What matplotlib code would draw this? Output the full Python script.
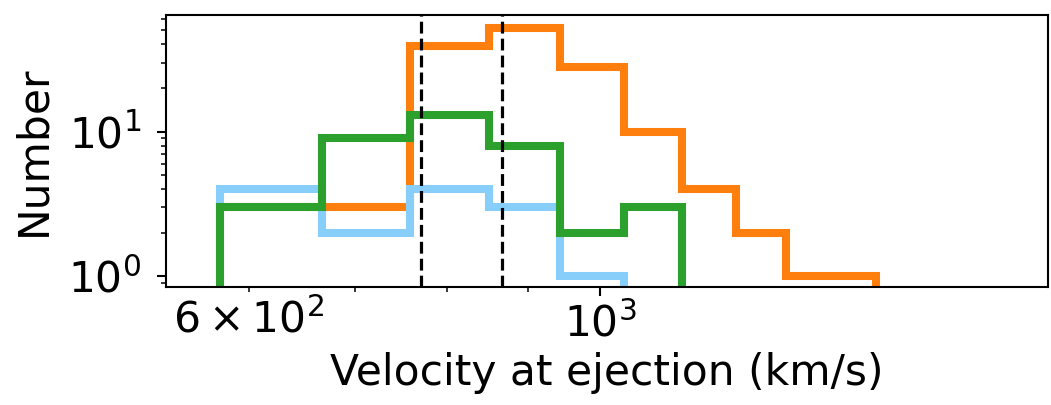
import matplotlib
matplotlib.use("Agg")
import matplotlib.pyplot as plt
from matplotlib.ticker import FixedLocator, FixedFormatter, NullFormatter

# shared bin edges of the velocity histograms (km/s)
bin_edges = [575, 667, 759, 851, 943, 1035, 1127, 1219, 1311, 1403, 1495]

# counts per bin for each sample (trailing empty bins left out)
counts_orange = [3, 3, 39, 52, 28, 10, 4, 2, 1, 1]
counts_blue = [4, 2, 4, 3, 1]
counts_green = [3, 9, 13, 8, 2, 3]

# reference velocities marked with dashed lines
v_marks = [771, 867]

fs = 30.5
plt.rcParams['font.size'] = fs
plt.rcParams['mathtext.default'] = 'regular'

fig = plt.figure(figsize=(10.51, 4.05), dpi=100)
ax = fig.add_axes([0.1577, 0.2914, 0.8397, 0.6716])

lw = 5.8
ax.stairs(counts_orange, bin_edges[:len(counts_orange) + 1],
          color='#ff7f0e', linewidth=lw)
ax.stairs(counts_blue, bin_edges[:len(counts_blue) + 1],
          color='#87cefa', linewidth=lw)
ax.stairs(counts_green, bin_edges[:len(counts_green) + 1],
          color='#2ca02c', linewidth=lw)

for v in v_marks:
    ax.axvline(v, color='k', linestyle='--', linewidth=2.3)

ax.set_xscale('log')
ax.set_yscale('log')
ax.set_xlim(531.6, 1920)
ax.set_ylim(0.84, 64)

# x ticks: 10^3 as major, 600..900 as minor with only 600 labelled
ax.xaxis.set_major_locator(FixedLocator([1000]))
ax.xaxis.set_major_formatter(FixedFormatter([r'$10^{3}$']))
ax.xaxis.set_minor_locator(FixedLocator([600, 700, 800, 900]))
ax.xaxis.set_minor_formatter(FixedFormatter([r'$6\times10^{2}$', '', '', '']))

ax.tick_params(which='major', length=6.5, width=1.5)
ax.tick_params(which='minor', length=3.7, width=1.1)
ax.tick_params(axis='x', which='both', labelsize=fs, pad=5)
ax.tick_params(axis='y', which='both', labelsize=fs, pad=11)
ax.yaxis.set_minor_formatter(NullFormatter())

for sp in ax.spines.values():
    sp.set_linewidth(1.5)

ax.set_xlabel('Velocity at ejection (km/s)', fontsize=fs, labelpad=5)
ax.set_ylabel('Number', fontsize=fs, labelpad=10)

fig.savefig('out.png', dpi=100)
